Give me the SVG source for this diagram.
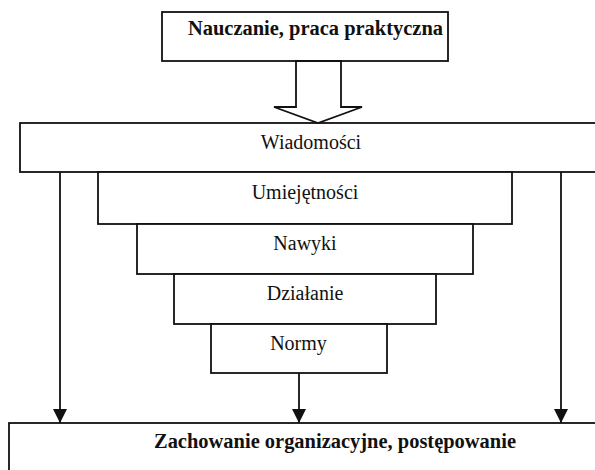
<svg xmlns="http://www.w3.org/2000/svg" width="595" height="470" viewBox="0 0 595 470">
<style>
.box{fill:#fff;stroke:#111;stroke-width:1.8}
text{font-family:'Liberation Serif','Times New Roman',Times,serif;font-size:20px;fill:#111;text-anchor:middle}
.b{font-weight:bold}
.c{stroke:#111;stroke-width:1.8;fill:none}
</style>
<defs>
<marker id="ah" markerUnits="userSpaceOnUse" markerWidth="16" markerHeight="16" viewBox="0 0 16 16" refX="14" refY="7" orient="auto">
<path d="M0,0 L14,7 L0,14 Z" fill="#111"/>
</marker>
</defs>
<rect width="595" height="470" fill="#fff"/>
<g id="top">
<rect class="box" x="162" y="12" width="286" height="49"/>
<text class="b" x="315.5" y="35" font-family="Liberation Serif, serif" textLength="255" lengthAdjust="spacingAndGlyphs">Nauczanie, praca praktyczna</text>
</g>
<g id="wiadomosci">
<rect class="box" x="20" y="123" width="590" height="49"/>
<text x="311" y="149" font-family="Liberation Serif, serif">Wiadomości</text>
</g>
<g id="umiejetnosci">
<rect class="box" x="98" y="172" width="414" height="52"/>
<text x="305" y="199" font-family="Liberation Serif, serif">Umiejętności</text>
</g>
<g id="nawyki">
<rect class="box" x="137" y="224" width="336" height="50"/>
<text x="305" y="250" font-family="Liberation Serif, serif">Nawyki</text>
</g>
<g id="dzialanie">
<rect class="box" x="174" y="274" width="262" height="50"/>
<text x="305" y="300" font-family="Liberation Serif, serif">Działanie</text>
</g>
<g id="normy">
<rect class="box" x="211" y="324" width="176" height="49"/>
<text x="298.5" y="350" font-family="Liberation Serif, serif">Normy</text>
</g>
<g id="zachowanie">
<rect class="box" x="9" y="423" width="600" height="60"/>
<text class="b" x="335" y="448" font-family="Liberation Serif, serif" textLength="362" lengthAdjust="spacingAndGlyphs">Zachowanie organizacyjne, postępowanie</text>
</g>
<g id="connectors">
<polygon class="box" points="296,61 296,107 274,107 318,123 362,107 341,107 341,61"/>
<line class="c" x1="60" y1="172" x2="60" y2="423" marker-end="url(#ah)"/>
<line class="c" x1="299" y1="373" x2="299" y2="423" marker-end="url(#ah)"/>
<line class="c" x1="561" y1="172" x2="561" y2="423" marker-end="url(#ah)"/>
</g>
</svg>
